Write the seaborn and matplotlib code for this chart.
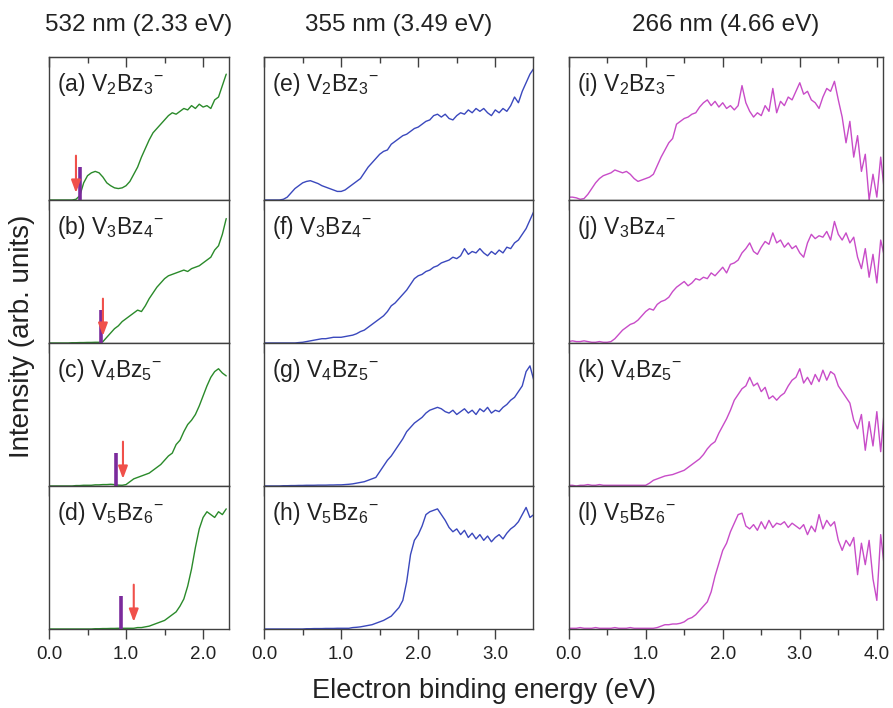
import numpy as np
import matplotlib
matplotlib.use("Agg")
import matplotlib.pyplot as plt
import seaborn as sns
from matplotlib.ticker import MultipleLocator, FormatStrFormatter

# energy grids (eV) for the three photon energies
e_532 = np.round(np.arange(0, 2.301, 0.05), 2)
e_355 = np.round(np.arange(0, 3.501, 0.05), 2)
e_266 = np.round(np.arange(0, 4.101, 0.05), 2)

# 532 nm spectra (normalised to panel height)
a_532 = [0, 0, 0, 0, 0, 0, 0, 0.005, 0.03, 0.12, 0.17, 0.19, 0.20, 0.19, 0.16, 0.12,
         0.10, 0.085, 0.08, 0.085, 0.10, 0.13, 0.18, 0.23, 0.30, 0.36, 0.42, 0.47, 0.50,
         0.53, 0.56, 0.59, 0.61, 0.60, 0.62, 0.64, 0.63, 0.66, 0.64, 0.67, 0.65, 0.66,
         0.64, 0.70, 0.72, 0.80, 0.88]
b_532 = [0, 0, 0, 0, 0, 0, 0.002, 0.002, 0.003, 0.003, 0.004, 0.004, 0.005, 0.005,
         0.01, 0.04, 0.07, 0.10, 0.12, 0.15, 0.17, 0.19, 0.21, 0.23, 0.22, 0.26, 0.31,
         0.35, 0.39, 0.42, 0.45, 0.47, 0.48, 0.49, 0.50, 0.51, 0.50, 0.52, 0.53, 0.54,
         0.56, 0.58, 0.60, 0.65, 0.68, 0.76, 0.87]
c_532 = [0, 0, 0, 0, 0, 0, 0, 0.003, 0.003, 0.005, 0.005, 0.005, 0.008, 0.008, 0.01,
         0.01, 0.012, 0.01, 0.006, 0.005,
         0.01, 0.03, 0.05, 0.06, 0.07, 0.08, 0.09, 0.11, 0.13, 0.15,
         0.18, 0.21, 0.23, 0.29, 0.32, 0.38, 0.43, 0.46, 0.50, 0.56,
         0.63, 0.70, 0.76, 0.80, 0.82, 0.79, 0.77]
d_532 = [0, 0, 0, 0, 0, 0, 0, 0, 0, 0, 0, 0, 0.002, 0.002, 0.003, 0.003, 0.004, 0.004,
         0.005, 0.005, 0.005, 0.005,
         0.005, 0.01, 0.01, 0.015, 0.02, 0.03, 0.04, 0.05, 0.06, 0.08,
         0.10, 0.12, 0.16, 0.21, 0.30, 0.42, 0.57, 0.70, 0.78, 0.82,
         0.80, 0.78, 0.82, 0.80, 0.84]

# 355 nm spectra
e_355_a = [0, 0, 0, 0, 0, 0.005, 0.02, 0.05, 0.08, 0.10,
           0.12, 0.13, 0.135, 0.125, 0.115, 0.10, 0.09, 0.08, 0.07, 0.06,
           0.06, 0.07, 0.09, 0.11, 0.13, 0.15, 0.19, 0.23, 0.26, 0.29,
           0.32, 0.34, 0.35, 0.39, 0.41, 0.43, 0.45, 0.46, 0.48, 0.50,
           0.51, 0.53, 0.55, 0.56, 0.59, 0.60, 0.58, 0.60, 0.57, 0.56,
           0.59, 0.61, 0.60, 0.63, 0.61, 0.64, 0.62, 0.64, 0.61, 0.59,
           0.63, 0.61, 0.64, 0.62, 0.66, 0.72, 0.68, 0.76, 0.82, 0.88,
           0.92]
f_355 = [0, 0, 0, 0, 0, 0, 0, 0, 0, 0.003,
         0.005, 0.01, 0.015, 0.02, 0.025, 0.03, 0.03, 0.035, 0.04, 0.04,
         0.04, 0.045, 0.05, 0.055, 0.065, 0.08, 0.09, 0.11, 0.13, 0.15,
         0.17, 0.19, 0.22, 0.26, 0.28, 0.31, 0.34, 0.37, 0.41, 0.45,
         0.47, 0.48, 0.50, 0.51, 0.53, 0.54, 0.56, 0.57, 0.58, 0.60,
         0.59, 0.61, 0.66, 0.62, 0.64, 0.63, 0.66, 0.63, 0.61, 0.64,
         0.62, 0.65, 0.63, 0.67, 0.66, 0.70, 0.72, 0.76, 0.80, 0.86,
         0.92]
g_355 = [0, 0, 0, 0, 0, 0.002, 0.002, 0.003, 0.003, 0.004,
         0.004, 0.005, 0.005, 0.005, 0.006, 0.006, 0.006, 0.007, 0.007, 0.008,
         0.008, 0.01, 0.012, 0.015, 0.02, 0.025, 0.03, 0.04, 0.05, 0.06,
         0.10, 0.14, 0.18, 0.21, 0.25, 0.29, 0.33, 0.38, 0.41, 0.44,
         0.46, 0.48, 0.51, 0.53, 0.54, 0.55, 0.54, 0.52, 0.51, 0.53,
         0.50, 0.52, 0.54, 0.51, 0.53, 0.50, 0.54, 0.52, 0.55, 0.51,
         0.53, 0.52, 0.55, 0.57, 0.60, 0.62, 0.66, 0.70, 0.80, 0.84,
         0.74]
h_355 = [0, 0, 0, 0, 0, 0, 0, 0, 0, 0,
         0, 0.002, 0.002, 0.003, 0.003, 0.003, 0.004, 0.004, 0.004, 0.005,
         0.005, 0.005, 0.005, 0.01, 0.012, 0.015, 0.02, 0.025, 0.03, 0.04,
         0.05, 0.06, 0.075, 0.09, 0.12, 0.15, 0.20, 0.33, 0.52, 0.62,
         0.66, 0.72, 0.80, 0.82, 0.83, 0.84, 0.80, 0.76, 0.71, 0.68,
         0.70, 0.66, 0.69, 0.64, 0.67, 0.63, 0.66, 0.62, 0.65, 0.61,
         0.64, 0.66, 0.63, 0.67, 0.70, 0.72, 0.75, 0.80, 0.85, 0.78,
         0.80]

# 266 nm spectra
i_266 = [0.02, 0.02, 0.015, 0.005, 0.01, 0.04, 0.08, 0.12, 0.15, 0.17,
         0.18, 0.19, 0.21, 0.20, 0.19, 0.20, 0.18, 0.15, 0.13, 0.14,
         0.15, 0.16, 0.18, 0.24, 0.30, 0.35, 0.40, 0.43, 0.53, 0.55,
         0.57, 0.58, 0.60, 0.61, 0.65, 0.68, 0.70, 0.66, 0.69, 0.65,
         0.68, 0.64, 0.66, 0.63, 0.66, 0.80, 0.68, 0.62, 0.58, 0.61,
         0.59, 0.66, 0.62, 0.78, 0.61, 0.69, 0.66, 0.72, 0.70, 0.76,
         0.82, 0.74, 0.76, 0.70, 0.68, 0.64, 0.72, 0.78, 0.76, 0.83,
         0.70, 0.58, 0.40, 0.55, 0.30, 0.45, 0.20, 0.32, 0.0, 0.18,
         0.02, 0.30, 0.05]
j_266 = [0.01, 0.015, 0.01, 0.01, 0.015, 0.01, 0.005, 0.005, 0.01, 0.005,
         0.005, 0.01, 0.03, 0.06, 0.09, 0.11, 0.13, 0.14, 0.16, 0.19,
         0.22, 0.24, 0.23, 0.27, 0.29, 0.30, 0.32, 0.36, 0.39, 0.41,
         0.43, 0.40, 0.42, 0.45, 0.44, 0.46, 0.45, 0.49, 0.47, 0.50,
         0.53, 0.49, 0.55, 0.56, 0.58, 0.63, 0.66, 0.70, 0.64, 0.62,
         0.67, 0.71, 0.69, 0.77, 0.70, 0.72, 0.67, 0.70, 0.66, 0.68,
         0.63, 0.60, 0.70, 0.76, 0.73, 0.75, 0.74, 0.78, 0.72, 0.85,
         0.76, 0.72, 0.77, 0.70, 0.74, 0.60, 0.52, 0.66, 0.46, 0.62,
         0.42, 0.72, 0.60]
k_266 = [0.005, 0.005, 0.0, 0.005, 0.005, 0.01, 0.005, 0.005, 0.01, 0.005,
         0.005, 0.005, 0.005, 0.005, 0.005, 0.005, 0.005, 0.005, 0.005, 0.005,
         0.005, 0.02, 0.04, 0.05, 0.06, 0.07, 0.075, 0.08, 0.09, 0.10,
         0.11, 0.13, 0.15, 0.17, 0.19, 0.22, 0.26, 0.29, 0.31, 0.37,
         0.42, 0.47, 0.53, 0.60, 0.64, 0.68, 0.70, 0.76, 0.70, 0.72,
         0.66, 0.69, 0.61, 0.63, 0.60, 0.63, 0.65, 0.70, 0.74, 0.76,
         0.82, 0.72, 0.76, 0.71, 0.78, 0.73, 0.81, 0.74, 0.80, 0.78,
         0.70, 0.66, 0.62, 0.58, 0.46, 0.40, 0.50, 0.25, 0.45, 0.28,
         0.52, 0.24, 0.55]
l_266 = [0.005, 0.005, 0.005, 0.01, 0.005, 0.005, 0.005, 0.01, 0.005, 0.005,
         0.005, 0.005, 0.01, 0.005, 0.005, 0.005, 0.01, 0.005, 0.005, 0.005,
         0.005, 0.005, 0.005, 0.01, 0.02, 0.03, 0.03, 0.035, 0.035, 0.04,
         0.05, 0.07, 0.08, 0.10, 0.13, 0.16, 0.19, 0.26, 0.37, 0.46,
         0.55, 0.60, 0.68, 0.74, 0.80, 0.81, 0.72, 0.70, 0.73, 0.69,
         0.75, 0.70, 0.76, 0.71, 0.74, 0.73, 0.75, 0.71, 0.74, 0.72,
         0.70, 0.73, 0.66, 0.72, 0.68, 0.80, 0.70, 0.76, 0.72, 0.75,
         0.62, 0.55, 0.62, 0.58, 0.64, 0.38, 0.60, 0.45, 0.62, 0.35,
         0.20, 0.66, 0.42]

# markers in the 532 nm column: purple bars and red arrows (eV)
bar_pos = [0.40, 0.68, 0.87, 0.94]
arrow_pos = [0.35, 0.70, 0.96, 1.10]

titles = ["532 nm (2.33 eV)", "355 nm (3.49 eV)", "266 nm (4.66 eV)"]
x_max = [2.33, 3.49, 4.08]
colors = ["#2a8a2a", "#3a48bd", "#c84cc8"]
clusters = [r"V$_2$Bz$_3$$^{-}$", r"V$_3$Bz$_4$$^{-}$",
            r"V$_4$Bz$_5$$^{-}$", r"V$_5$Bz$_6$$^{-}$"]
letters = ["abcd", "efgh", "ijkl"]

energies = [e_532, e_355, e_266]
spectra = [[a_532, b_532, c_532, d_532],
           [e_355_a, f_355, g_355, h_355],
           [i_266, j_266, k_266, l_266]]

sns.set_style("white")
plt.rcParams["font.family"] = ["Liberation Sans", "DejaVu Sans"]
plt.rcParams["mathtext.fontset"] = "custom"
plt.rcParams["mathtext.rm"] = "Liberation Sans"
plt.rcParams["mathtext.it"] = "Liberation Sans:italic"
plt.rcParams["mathtext.bf"] = "Liberation Sans:bold"
plt.rcParams["text.color"] = "#222222"
plt.rcParams["xtick.labelcolor"] = "#222222"

edge = "#404040"
fig = plt.figure(figsize=(8.93, 7.08), dpi=100)
gs = fig.add_gridspec(4, 3, left=49 / 893, right=883 / 893, top=1 - 57 / 708,
                      bottom=1 - 629 / 708, hspace=0, wspace=0.14,
                      width_ratios=x_max)

for col in range(3):
    for row in range(4):
        ax = fig.add_subplot(gs[row, col])
        sns.lineplot(x=energies[col], y=spectra[col][row], ax=ax,
                     color=colors[col], linewidth=1.0)
        ax.set_xlim(0, x_max[col])
        ax.set_ylim(0, 1)
        ax.set_yticks([])
        ax.set_xlabel("")
        ax.set_ylabel("")
        for sp in ax.spines.values():
            sp.set_color(edge)
            sp.set_linewidth(1.0)
        ax.xaxis.set_major_locator(MultipleLocator(1.0))
        ax.xaxis.set_minor_locator(MultipleLocator(0.5))
        ax.xaxis.set_major_formatter(FormatStrFormatter("%.1f"))
        ax.tick_params(axis="x", which="both", direction="out", bottom=True,
                       color=edge, width=1.0, labelsize=13.5, pad=5)
        ax.tick_params(axis="x", which="major", length=7)
        ax.tick_params(axis="x", which="minor", length=4)
        if row < 3:
            ax.tick_params(axis="x", which="both", labelbottom=False)
        if row == 0:
            ax.set_title(titles[col], fontsize=17.5, pad=19)
            top = ax.secondary_xaxis("top")
            top.xaxis.set_major_locator(MultipleLocator(1.0))
            top.xaxis.set_minor_locator(MultipleLocator(0.5))
            top.tick_params(axis="x", which="both", direction="in",
                            labeltop=False, color=edge, width=1.0)
            top.tick_params(axis="x", which="major", length=7)
            top.tick_params(axis="x", which="minor", length=4)
            top.spines["top"].set_color(edge)
        ax.annotate(f"({letters[col][row]}) " + clusters[row], xy=(0, 1),
                    xycoords="axes fraction", xytext=(6, -10),
                    textcoords="offset points", ha="left", va="top",
                    fontsize=16.5)
        if col == 0:
            ax.vlines(bar_pos[row], 0, 0.23, color="#7b2a9c", linewidth=2.6,
                      zorder=3)
            ax.annotate("", xy=(arrow_pos[row], 0.05),
                        xytext=(arrow_pos[row], 0.31),
                        arrowprops=dict(arrowstyle="-|>,head_length=0.75,head_width=0.28",
                                        color="#f0504a", lw=1.5,
                                        mutation_scale=10, shrinkA=0,
                                        shrinkB=0),
                        zorder=4)

fig.supxlabel("Electron binding energy (eV)", fontsize=19.5, x=0.542,
              y=0.006, va="bottom")
fig.supylabel("Intensity (arb. units)", fontsize=20, x=0.010, y=0.525)

fig.savefig("out.png", dpi=100)
